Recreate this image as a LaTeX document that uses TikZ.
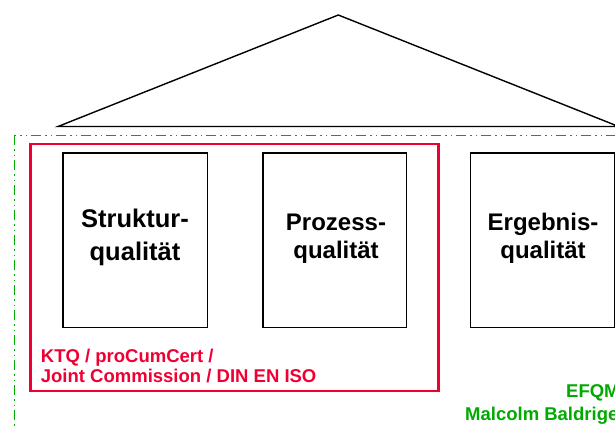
\documentclass[tikz,border=0pt]{standalone}
\usepackage{fontspec}
\setmainfont{Liberation Sans}
\definecolor{redb}{RGB}{240,0,50}
\definecolor{greenb}{RGB}{0,170,0}
\begin{document}
\begin{tikzpicture}[x=1pt,y=-1pt,
  roof/.style={draw=black,line width=1.4pt,line join=miter},
  qbox/.style={draw=black,line width=1.2pt,inner sep=0pt,anchor=north west},
  qtext/.style={font=\fontsize{24}{24}\selectfont\bfseries,anchor=base,inner sep=0pt},
  qbig/.style={qtext,font=\fontsize{25.5}{26}\selectfont\bfseries},
  redframe/.style={draw=redb,line width=2.4pt},
  greenframe/.style={draw=greenb,line width=1pt,dash pattern=on 10pt off 4pt on 1.5pt off 4pt on 1.5pt off 4pt},
  redtext/.style={font=\fontsize{18.5}{20}\selectfont\bfseries,text=redb,anchor=base west,inner sep=0pt},
  greentext/.style={font=\fontsize{18.5}{20}\selectfont\bfseries,text=greenb,anchor=base west,inner sep=0pt}]
\useasboundingbox (0,0) rectangle (615,428);
\clip (0,0) rectangle (615,428);
% roof
\coordinate (rl) at (58,126.5);
\coordinate (ra) at (338.3,15);
\coordinate (rr) at (618.6,126.5);
\draw[roof] (rl) -- (ra) -- (rr) -- cycle;
% frames
\draw[greenframe] (14,135) rectangle (640,460);
\draw[redframe] (30.5,143.7) rectangle (438.3,391);
% pillars
\node[qbox,minimum width=144.2pt,minimum height=174.4pt] (s) at (62.3,152.3) {};
\node[qbox,minimum width=143.7pt,minimum height=174.4pt] (p) at (262.3,152.3) {};
\node[qbox,minimum width=144pt,minimum height=174.4pt] (e) at (470,152.3) {};
% texts
\node[qbig] (s1) at (135,227.7) {Struktur-};
\node[qbig] (s2) at (135,260) {qualität};
\node[qtext] (p1) at (336,230) {Prozess-};
\node[qtext] (p2) at (336,258.3) {qualität};
\node[qtext] (e1) at (543,230) {Ergebnis-};
\node[qtext] (e2) at (543,258.3) {qualität};
\node[redtext] (r1) at (40.7,362) {KTQ / proCumCert /};
\node[redtext] (r2) at (40.7,382) {Joint Commission / DIN EN ISO};
\node[greentext] (g1) at (566,397) {EFQM};
\node[greentext] (g2) at (465,420) {Malcolm Baldrige};
\end{tikzpicture}
\end{document}
